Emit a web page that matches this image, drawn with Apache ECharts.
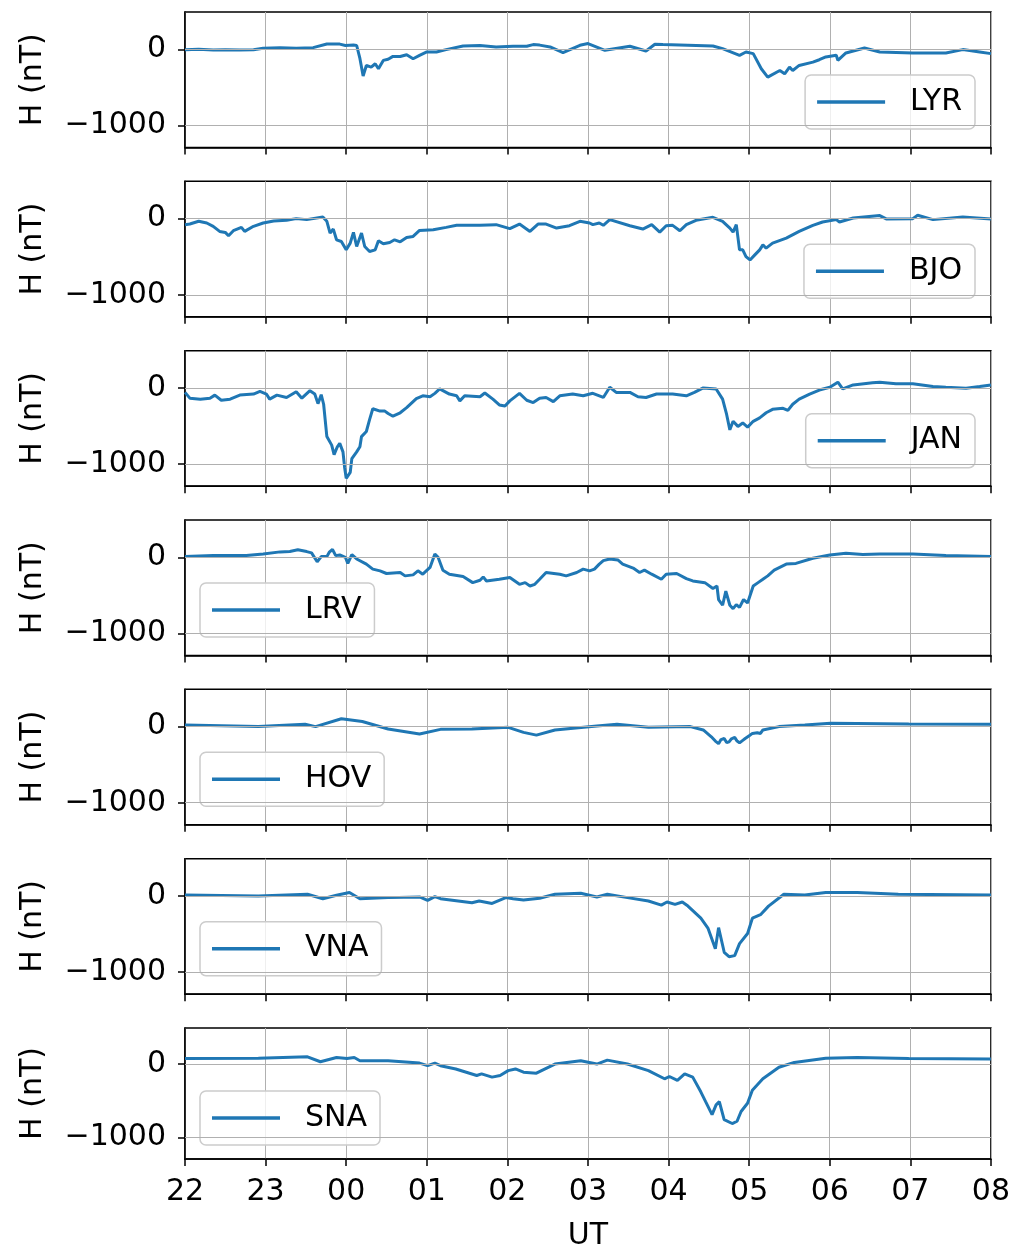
<!DOCTYPE html>
<html><head><meta charset="utf-8">
<script src="https://cdn.jsdelivr.net/npm/echarts@6/dist/echarts.min.js"></script>
<style>html,body{margin:0;padding:0;background:#fff}#c{width:1013px;height:1252px}</style>
</head><body><div id="c"></div>
<script>
// ---- data (time in hours after 22 UT, H in nT) ----
const stations = ['LYR','BJO','JAN','LRV','HOV','VNA','SNA'];
const hourLabels = ['22','23','00','01','02','03','04','05','06','07','08'];
const yTickValues = [0, -1000];

const lyrT = [0.00,0.17,0.35,0.50,0.68,0.85,0.97,1.18,1.38,1.59,1.76,1.92,1.99,2.09,2.13,2.17,2.21,2.25,2.31,2.36,2.40,2.46,2.52,2.58,2.67,2.75,2.83,2.91,3.00,3.12,3.24,3.45,3.66,3.86,4.07,4.24,4.32,4.40,4.53,4.69,4.90,5.00,5.21,5.52,5.72,5.83,5.93,6.55,6.67,6.88,6.96,7.05,7.15,7.23,7.38,7.44,7.50,7.54,7.62,7.79,7.87,7.95,8.08,8.10,8.20,8.43,8.62,9.03,9.44,9.65,9.86,10.0];
const lyrH = [-5,0,-10,-5,-10,-5,15,20,15,22,70,68,50,55,50,-120,-350,-212,-234,-190,-256,-146,-130,-93,-95,-71,-124,-80,-35,-35,-4,44,49,31,40,40,62,55,31,-44,53,75,-13,40,-22,66,62,44,9,-79,-35,-57,-256,-366,-278,-322,-234,-278,-212,-168,-137,-101,-79,-146,-48,18,-35,-48,-48,-4,-35,-57];

const bjoT = [0.00,0.06,0.17,0.27,0.35,0.43,0.50,0.54,0.60,0.70,0.74,0.85,0.97,1.10,1.26,1.38,1.51,1.71,1.76,1.80,1.84,1.88,1.94,2.00,2.05,2.09,2.13,2.19,2.23,2.29,2.36,2.40,2.46,2.54,2.60,2.67,2.75,2.83,2.91,3.08,3.24,3.37,3.66,3.86,4.03,4.15,4.28,4.38,4.48,4.61,4.77,4.90,5.02,5.06,5.14,5.19,5.27,5.52,5.68,5.79,5.89,5.97,6.05,6.14,6.22,6.34,6.55,6.67,6.76,6.80,6.84,6.88,6.92,6.96,7.01,7.07,7.13,7.17,7.21,7.29,7.46,7.62,7.79,7.91,8.08,8.12,8.29,8.62,8.70,9.03,9.09,9.28,9.65,10.0];
const bjoH = [-79,-71,-35,-57,-101,-168,-181,-225,-159,-115,-168,-101,-57,-31,-22,0,-13,22,-35,-190,-137,-278,-300,-410,-322,-181,-366,-190,-366,-432,-410,-291,-331,-313,-278,-305,-247,-234,-155,-146,-115,-88,-88,-79,-132,-71,-168,-71,-71,-124,-93,-35,-57,-79,-57,-88,-13,-93,-137,-79,-177,-93,-88,-159,-79,-22,18,-35,-124,-177,-79,-410,-410,-498,-543,-476,-410,-344,-388,-322,-256,-168,-88,-44,-13,-44,9,40,-4,0,44,-13,22,-4];

const janT = [0.00,0.06,0.19,0.31,0.37,0.45,0.56,0.68,0.85,0.93,1.01,1.05,1.14,1.26,1.38,1.45,1.55,1.61,1.65,1.69,1.72,1.76,1.82,1.85,1.89,1.92,1.96,1.98,2.00,2.05,2.07,2.13,2.17,2.19,2.25,2.29,2.33,2.42,2.48,2.52,2.58,2.67,2.75,2.87,2.95,3.04,3.10,3.16,3.28,3.37,3.41,3.47,3.66,3.72,3.82,3.90,3.97,4.03,4.15,4.24,4.32,4.40,4.48,4.57,4.65,4.81,4.94,5.06,5.19,5.27,5.35,5.52,5.62,5.72,5.85,6.05,6.22,6.32,6.43,6.59,6.67,6.72,6.76,6.80,6.86,6.92,6.98,7.05,7.13,7.21,7.29,7.42,7.48,7.54,7.62,7.75,7.87,8.00,8.10,8.16,8.29,8.53,8.62,8.82,9.03,9.28,9.44,9.69,9.86,10.0];
const janH = [-58,-134,-147,-134,-94,-161,-147,-94,-80,-45,-80,-147,-94,-125,-49,-134,-36,-80,-206,-89,-214,-639,-751,-876,-773,-728,-840,-1041,-1188,-1108,-929,-840,-773,-639,-572,-416,-273,-304,-304,-335,-371,-326,-259,-139,-103,-116,-71,-13,-80,-103,-170,-103,-116,-67,-147,-223,-237,-170,-71,-161,-192,-134,-125,-179,-103,-80,-103,-70,-125,9,-58,-58,-116,-125,-80,-80,-103,-58,0,-13,-147,-348,-550,-438,-505,-460,-514,-438,-393,-326,-281,-268,-295,-214,-147,-80,-27,9,76,-13,40,67,76,54,54,18,9,-4,18,40];

const lrvT = [0.00,0.35,0.76,0.97,1.18,1.30,1.40,1.51,1.57,1.64,1.69,1.76,1.79,1.83,1.87,1.92,1.99,2.02,2.07,2.13,2.25,2.33,2.42,2.50,2.67,2.73,2.83,2.89,2.95,3.04,3.10,3.14,3.20,3.28,3.45,3.57,3.66,3.70,3.74,3.90,4.03,4.15,4.22,4.28,4.34,4.40,4.48,4.65,4.73,4.86,4.94,5.02,5.08,5.14,5.19,5.27,5.37,5.43,5.56,5.64,5.70,5.79,5.91,5.97,6.10,6.22,6.30,6.45,6.55,6.60,6.62,6.67,6.71,6.76,6.80,6.84,6.88,6.93,6.98,7.05,7.11,7.17,7.23,7.31,7.46,7.58,7.79,8.00,8.20,8.41,8.62,9.03,9.44,10.0];
const lrvH = [9,22,22,44,71,75,98,75,58,-58,9,9,67,102,22,31,0,-80,36,-22,-89,-155,-178,-213,-200,-244,-231,-178,-222,-133,44,0,-169,-222,-253,-333,-302,-258,-311,-289,-266,-355,-333,-377,-355,-289,-200,-222,-244,-200,-155,-178,-155,-90,-44,-22,-35,-89,-142,-200,-169,-222,-289,-222,-213,-280,-311,-333,-409,-377,-555,-630,-444,-630,-675,-622,-658,-555,-600,-377,-333,-289,-244,-169,-89,-80,-13,31,53,36,44,44,22,9];

const hovT = [0.00,0.91,1.49,1.62,1.94,2.20,2.52,2.91,3.17,3.56,4.01,4.20,4.36,4.59,5.11,5.36,5.75,6.27,6.43,6.53,6.58,6.62,6.65,6.69,6.72,6.75,6.78,6.82,6.85,6.88,6.92,6.95,7.00,7.04,7.10,7.14,7.17,7.37,7.69,8.01,8.98,10.0];
const hovH = [22,0,31,0,103,67,-31,-98,-36,-31,-9,-76,-112,-44,9,31,-9,0,-44,-134,-190,-224,-170,-156,-210,-200,-160,-142,-190,-213,-180,-156,-120,-89,-80,-90,-44,0,22,45,36,31];

const vnaT = [0.00,0.91,1.52,1.71,1.88,2.04,2.17,2.52,2.91,3.01,3.10,3.17,3.56,3.65,3.81,3.98,4.07,4.20,4.40,4.59,4.91,5.11,5.24,5.49,5.75,5.91,5.98,6.08,6.17,6.24,6.40,6.49,6.58,6.62,6.69,6.75,6.82,6.88,6.98,7.04,7.14,7.24,7.43,7.69,7.95,8.34,8.85,10.0];
const vnaH = [13,0,22,-36,9,45,-36,-22,-13,-58,-9,-36,-89,-67,-98,-22,-36,-53,-31,22,36,-13,22,-22,-67,-121,-80,-111,-80,-133,-291,-426,-695,-417,-740,-798,-784,-627,-493,-291,-246,-134,22,13,45,45,22,13];

const snaT = [0.00,0.91,1.52,1.68,1.88,2.01,2.10,2.17,2.52,2.91,3.01,3.10,3.17,3.36,3.62,3.68,3.81,3.91,4.01,4.10,4.20,4.36,4.59,4.91,5.11,5.24,5.49,5.75,5.95,6.01,6.11,6.20,6.30,6.40,6.46,6.54,6.59,6.63,6.69,6.79,6.85,6.90,6.98,7.04,7.17,7.37,7.56,7.95,8.34,8.98,10.0];
const snaH = [76,80,98,31,89,76,89,45,45,13,-22,13,-22,-67,-155,-133,-178,-155,-89,-67,-111,-124,0,45,0,53,0,-89,-200,-169,-222,-133,-178,-377,-511,-688,-555,-511,-755,-808,-777,-644,-533,-355,-200,-44,22,80,89,76,67];

const seriesT = [lyrT, bjoT, janT, lrvT, hovT, vnaT, snaT];
const seriesH = [lyrH, bjoH, janH, lrvH, hovH, vnaH, snaH];

// ---- layout ----
const FONT = 'DejaVu Sans';
const FS = 30;
const gridLeft = 185, gridRight = 22, gridH = 135.5, gridStep = 169.33, gridTop0 = 12;
const blue = '#1f77b4';

const grids = [], xAxes = [], yAxes = [], series = [], legends = [];
stations.forEach((name, i) => {
  const top = gridTop0 + i * gridStep;
  const last = i === stations.length - 1;
  grids.push({left: gridLeft, right: gridRight, top: top, height: gridH,
    show: true, borderColor: '#000', borderWidth: 1.5, backgroundColor: 'transparent'});
  xAxes.push({gridIndex: i, type: 'value', min: 0, max: 10, interval: 1,
    axisLine: {show: true, onZero: false, lineStyle: {color: '#000', width: 1.5}},
    axisTick: {show: true, length: 7, lineStyle: {color: '#000', width: 1.5}},
    axisLabel: {show: last, formatter: v => hourLabels[Math.round(v)], fontSize: FS, color: '#000', fontFamily: FONT, margin: 18},
    splitLine: {show: true, lineStyle: {color: '#b0b0b0', width: 1}},
    name: last ? 'UT' : '', nameLocation: 'middle', nameGap: 62,
    nameTextStyle: {fontSize: FS, color: '#000', fontFamily: FONT}});
  yAxes.push({gridIndex: i, type: 'value', min: -1290, max: 490,
    axisLine: {show: true, lineStyle: {color: '#000', width: 1.5}},
    axisTick: {show: true, customValues: yTickValues, length: 7, lineStyle: {color: '#000', width: 1.5}},
    axisLabel: {customValues: yTickValues, formatter: v => v < 0 ? '\u2212' + Math.abs(v) : String(v),
      fontSize: FS, color: '#000', fontFamily: FONT, margin: 19},
    splitLine: {show: false},
    name: 'H (nT)', nameLocation: 'middle', nameGap: 137, nameRotate: 90,
    nameTextStyle: {fontSize: FS, color: '#000', fontFamily: FONT}});
  // horizontal grid lines at the tick values
  series.push({type: 'line', name: '_grid' + i, xAxisIndex: i, yAxisIndex: i, z: 1, silent: true,
    data: [[0, 0]], showSymbol: false, lineStyle: {opacity: 0},
    markLine: {silent: true, symbol: 'none', animation: false, label: {show: false},
      lineStyle: {color: '#b0b0b0', width: 1, type: 'solid'},
      data: yTickValues.map(v => ({yAxis: v}))}});
  series.push({type: 'line', name: name, xAxisIndex: i, yAxisIndex: i, z: 3,
    data: seriesT[i].map((t, k) => [t, seriesH[i][k]]),
    showSymbol: false, symbol: 'none', color: blue,
    lineStyle: {color: blue, width: 3}});
  const lg = {data: [name], orient: 'horizontal', icon: 'rect', itemWidth: 68, itemHeight: 3.5,
    padding: [12, 13, 12, 12], borderColor: '#cccccc', borderWidth: 1.5, borderRadius: 6,
    backgroundColor: 'rgba(255,255,255,0.8)', selectedMode: false,
    textStyle: {fontSize: FS, color: '#000', fontFamily: FONT, padding: [0, 0, 0, 20]},
    top: top + 63};
  if (i < 3) lg.right = 38; else lg.left = 200;
  legends.push(lg);
});

const chart = echarts.init(document.getElementById('c'), null, {renderer: 'canvas'});
chart.setOption({animation: false, backgroundColor: '#fff', grid: grids, xAxis: xAxes, yAxis: yAxes, series: series, legend: legends});
</script></body></html>
